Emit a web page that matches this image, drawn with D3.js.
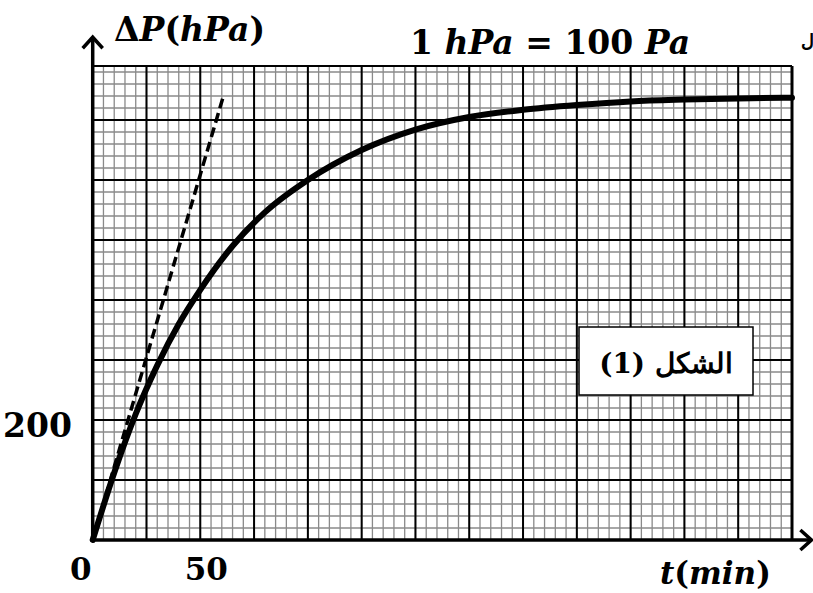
<!DOCTYPE html>
<html>
<head>
<meta charset="utf-8">
<script src="https://cdn.jsdelivr.net/npm/d3@7"></script>
<style>
  body { margin: 0; background: #fff; }
  text { font-family: "DejaVu Serif", serif; font-weight: bold; fill: #000; }
</style>
</head>
<body>
<div id="chart"></div>
<script>
// values
const timeMin = [0, 10, 20, 30, 40, 50, 65, 80, 100, 125, 150, 175, 200, 225, 250, 275, 300, 325];
const pressureHPa = [0, 112, 210, 291, 360, 417, 490, 546, 600, 650, 684, 705, 717, 725, 731, 734, 736, 737];
const tangentT = [0, 61];
const tangentP = [0, 743];
const xTickLabels = [0, 50];
const yTickLabels = [200];

const width = 813, height = 593;
const margin = { top: 66, left: 92.7 };
const plotW = 699.3, plotH = 474;
const xMax = 325, yMax = 790;

const svg = d3.select("#chart")
  .append("svg")
  .attr("width", width)
  .attr("height", height);

const x = d3.scaleLinear().domain([0, xMax]).range([margin.left, margin.left + plotW]);
const y = d3.scaleLinear().domain([0, yMax]).range([margin.top + plotH, margin.top]);

// graph paper
const grid = svg.append("g");
grid.selectAll(".vmin")
  .data(d3.range(0, xMax + 1, 5))
  .join("line")
  .attr("x1", d => x(d)).attr("x2", d => x(d))
  .attr("y1", y(0)).attr("y2", y(yMax))
  .attr("stroke", "#8a8a8a").attr("stroke-width", 1.3);
grid.selectAll(".hmin")
  .data(d3.range(0, yMax, 20))
  .join("line")
  .attr("y1", d => y(d)).attr("y2", d => y(d))
  .attr("x1", x(0)).attr("x2", x(xMax))
  .attr("stroke", "#8a8a8a").attr("stroke-width", 1.3);
grid.selectAll(".vmaj")
  .data(d3.range(0, xMax + 1, 25))
  .join("line")
  .attr("x1", d => x(d)).attr("x2", d => x(d))
  .attr("y1", y(0)).attr("y2", y(yMax))
  .attr("stroke", "#000").attr("stroke-width", 2);
grid.selectAll(".hmaj")
  .data(d3.range(0, yMax, 100))
  .join("line")
  .attr("y1", d => y(d)).attr("y2", d => y(d))
  .attr("x1", x(0)).attr("x2", x(xMax))
  .attr("stroke", "#000").attr("stroke-width", 2);
// top and right border of the paper
grid.append("line")
  .attr("x1", x(0)).attr("x2", x(xMax)).attr("y1", y(yMax)).attr("y2", y(yMax))
  .attr("stroke", "#000").attr("stroke-width", 2);
grid.append("line")
  .attr("x1", x(xMax)).attr("x2", x(xMax)).attr("y1", y(0)).attr("y2", y(yMax))
  .attr("stroke", "#000").attr("stroke-width", 3);

// axes with arrows
const axisEndX = 334, axisEndY = 838;
svg.append("line")
  .attr("x1", x(0)).attr("x2", x(axisEndX)).attr("y1", y(0)).attr("y2", y(0))
  .attr("stroke", "#000").attr("stroke-width", 3.5);
svg.append("line")
  .attr("x1", x(0)).attr("x2", x(0)).attr("y1", y(0)).attr("y2", y(axisEndY))
  .attr("stroke", "#000").attr("stroke-width", 3.5);
svg.append("path")
  .attr("d", `M${x(axisEndX) - 11},${y(0) - 10}L${x(axisEndX)},${y(0)}L${x(axisEndX) - 11},${y(0) + 10}`)
  .attr("fill", "none").attr("stroke", "#000").attr("stroke-width", 3.5);
svg.append("path")
  .attr("d", `M${x(0) - 10},${y(axisEndY) + 11}L${x(0)},${y(axisEndY)}L${x(0) + 10},${y(axisEndY) + 11}`)
  .attr("fill", "none").attr("stroke", "#000").attr("stroke-width", 3.5);

// tangent at t = 0
svg.append("path")
  .datum(d3.zip(tangentT, tangentP))
  .attr("d", d3.line().x(d => x(d[0])).y(d => y(d[1])))
  .attr("fill", "none")
  .attr("stroke", "#000")
  .attr("stroke-width", 3.5)
  .attr("stroke-dasharray", "10,5");

// measured curve
svg.append("path")
  .datum(d3.zip(timeMin, pressureHPa))
  .attr("d", d3.line().curve(d3.curveMonotoneX).x(d => x(d[0])).y(d => y(d[1])))
  .attr("fill", "none")
  .attr("stroke", "#000")
  .attr("stroke-width", 6)
  .attr("stroke-linecap", "round");

// tick labels
svg.selectAll(".xl")
  .data(xTickLabels)
  .join("text")
  .attr("x", d => d === 0 ? x(d) - 12 : x(d) + 6)
  .attr("y", 580)
  .attr("text-anchor", "middle")
  .attr("font-size", 31)
  .text(d => d);
svg.selectAll(".yl")
  .data(yTickLabels)
  .join("text")
  .attr("x", 3)
  .attr("y", y(200) + 17)
  .attr("font-size", 33)
  .text(d => d);

// axis titles
const yt = svg.append("text").attr("x", 114).attr("y", 41).attr("font-size", 33);
yt.append("tspan").text("Δ");
yt.append("tspan").attr("font-style", "italic").text("P");
yt.append("tspan").text("(");
yt.append("tspan").attr("font-style", "italic").text("hPa");
yt.append("tspan").text(")");

const xt = svg.append("text").attr("x", 660).attr("y", 584).attr("font-size", 31);
xt.append("tspan").attr("font-style", "italic").text("t");
xt.append("tspan").text("(");
xt.append("tspan").attr("font-style", "italic").text("min");
xt.append("tspan").text(")");

const note = svg.append("text").attr("x", 410).attr("y", 54).attr("font-size", 33);
note.append("tspan").text("1 ");
note.append("tspan").attr("font-style", "italic").text("hPa");
note.append("tspan").text(" = 100 ");
note.append("tspan").attr("font-style", "italic").text("Pa");

svg.append("text")
  .attr("x", 801).attr("y", 47)
  .attr("font-family", "DejaVu Sans")
  .attr("font-weight", "normal")
  .attr("font-size", 18)
  .text("ل");

// figure label box
svg.append("rect")
  .attr("x", 579).attr("y", 327).attr("width", 174).attr("height", 68)
  .attr("fill", "#fff").attr("stroke", "#000").attr("stroke-width", 1.5);
svg.append("text")
  .attr("x", 666).attr("y", 373)
  .attr("text-anchor", "middle")
  .attr("direction", "rtl")
  .attr("font-family", "DejaVu Sans")
  .attr("font-size", 28)
  .text("الشكل (1)");
</script>
</body>
</html>
